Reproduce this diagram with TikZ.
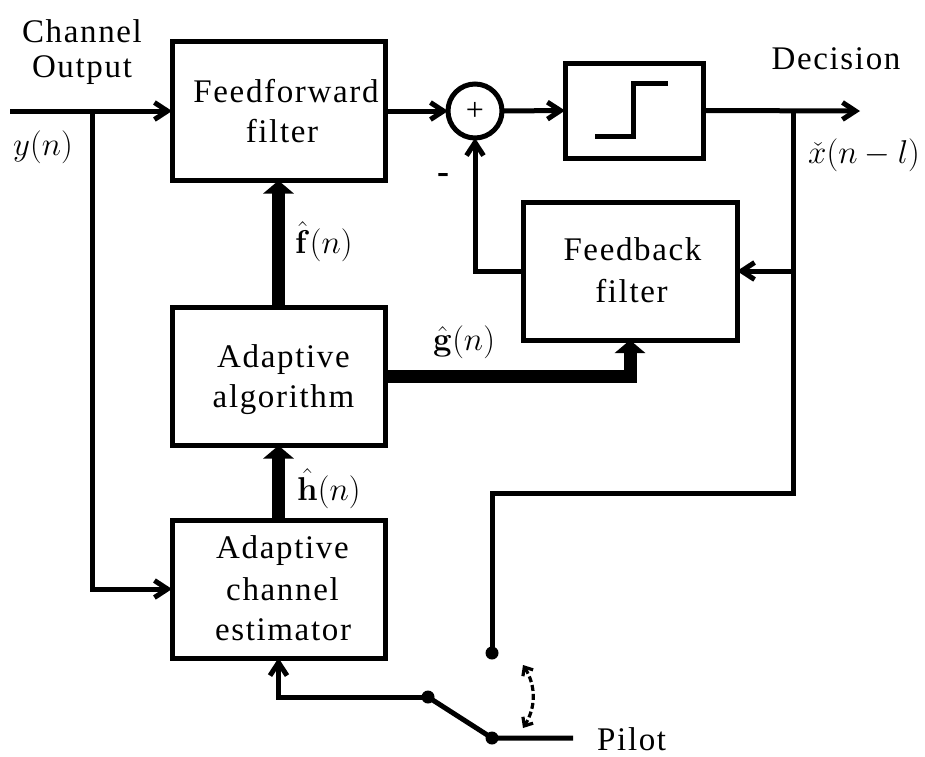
\RequirePackage{fix-cm}
\documentclass[tikz,border=0pt]{standalone}
\usepackage[no-math]{fontspec}
\setmainfont{Liberation Serif}
\newfontfamily\spacedserif{Liberation Serif}[LetterSpace=5]
\usetikzlibrary{arrows.meta}

\begin{document}
\begin{tikzpicture}[x=1pt,y=-1pt,
  wire/.style={line width=5pt},
  arr/.style={wire,-{Straight Barb[length=13pt,width=17pt]}},
  bus/.style={line width=13pt,-{Triangle[length=13pt,width=30pt]}},
  blk/.style={draw,line width=5pt,rectangle,inner sep=0pt,outer sep=0pt},
  txt/.style={font=\spacedserif\fontsize{33}{38}\selectfont,inner sep=0pt,anchor=base},
  sig/.style={font=\fontsize{33}{38}\selectfont,inner sep=0pt,anchor=base west},
  dot/.style={circle,fill,inner sep=0pt,minimum size=13pt},
]
\useasboundingbox (0,0) rectangle (925,756);

% blocks
\node[blk,minimum width=213pt,minimum height=139pt] (ff) at (278.5,111) {};
\node[blk,minimum width=138pt,minimum height=95pt] (dec) at (634,110.5) {};
\node[blk,minimum width=214pt,minimum height=138pt] (fb) at (630,271) {};
\node[blk,minimum width=213pt,minimum height=138pt] (alg) at (278.5,376.5) {};
\node[blk,minimum width=213pt,minimum height=138pt] (est) at (278.5,589) {};
\node[draw,circle,line width=5pt,minimum size=54pt,inner sep=0pt,outer sep=0pt,
      font=\fontsize{32}{36}\selectfont] (sum) at (475,111) {+};

% block texts
\node[txt] (ff1) at (286,102) {Feedforward};
\node[txt] (ff2) at (282,142) {filter};
\node[txt] (alg1) at (283.5,367) {Adaptive};
\node[txt] (alg2) at (283.5,407) {algorithm};
\node[txt] (est1) at (282.5,558) {Adaptive};
\node[txt] (est2) at (282.5,600) {channel};
\node[txt] (est3) at (283,640) {estimator};
\node[txt] (fb1) at (632.5,260) {Feedback};
\node[txt] (fb2) at (631.5,302) {filter};

% hard limiter symbol
\draw[wire,shift={(dec.center)}] (-39,25.5) -- (-1,25.5) -- (-1,-27.5) -- (34,-27.5);

% outer labels
\node[txt] (ch1) at (82,42) {Channel};
\node[txt] (ch2) at (82,77) {Output};
\node[txt] (decl) at (836,69) {Decision};
\node[txt,anchor=base west] (pil) at (597,750) {Pilot};
\node[font=\bfseries\fontsize{36}{40}\selectfont,inner sep=0pt] (minus) at (443,178) {-};

\node[sig] (yn) at (13,155) {$y(n)$};
\node[sig] (fn) at (295,253) {$\hat{\mathbf{f}}(n)$};
\node[sig] (gn) at (433,350) {$\hat{\mathbf{g}}(n)$};
\node[sig] (hn) at (297,500) {$\hat{\mathbf{h}}(n)$};
\node[sig] (xn) at (808,163) {$\check{x}(n-l)$};

% signal path
\coordinate (in) at (10,111);
\coordinate (yb) at (92,111);
\coordinate (out) at (860,111);
\coordinate (tap) at (793,111);
\coordinate (jog) at (793,493);
\coordinate (pilotend) at (573,738);

\draw[arr] (in) -- (ff.west);
\draw[arr] (yb) |- (est.west);
\draw[arr] (ff.east) -- (sum.west);
\draw[arr] (sum.east) -- (dec.west);
\draw[arr] (dec.east) -- (out);
\draw[arr] (tap) |- (fb.east);
\draw[arr] (fb.west) -| (sum.south);

% coefficient buses
\draw[bus] (alg.north) -- (alg.north|-ff.south);
\draw[bus] (est.north) -- (alg.south);
\draw[bus] (alg.east) -| (fb.south);

% training / decision-directed switch
\node[dot] (sw1) at (492,653) {};
\node[dot] (sw0) at (492,738) {};
\node[dot] (sw2) at (428,697) {};
\draw[wire] (tap) -- (jog) -| (sw1.center);
\draw[wire] (pilotend) -- (sw0.center) -- (sw2.center);
\draw[arr] (sw2.center) -| (est.south);

\coordinate (r1) at (523,665);
\coordinate (r2) at (523,728);
\draw[line width=3.2pt,dash pattern=on 6pt off 3pt,
      {Straight Barb[length=7pt,width=12pt]}-{Straight Barb[length=7pt,width=12pt]}]
      (r1) to[bend left=32] (r2);
\end{tikzpicture}
\end{document}
